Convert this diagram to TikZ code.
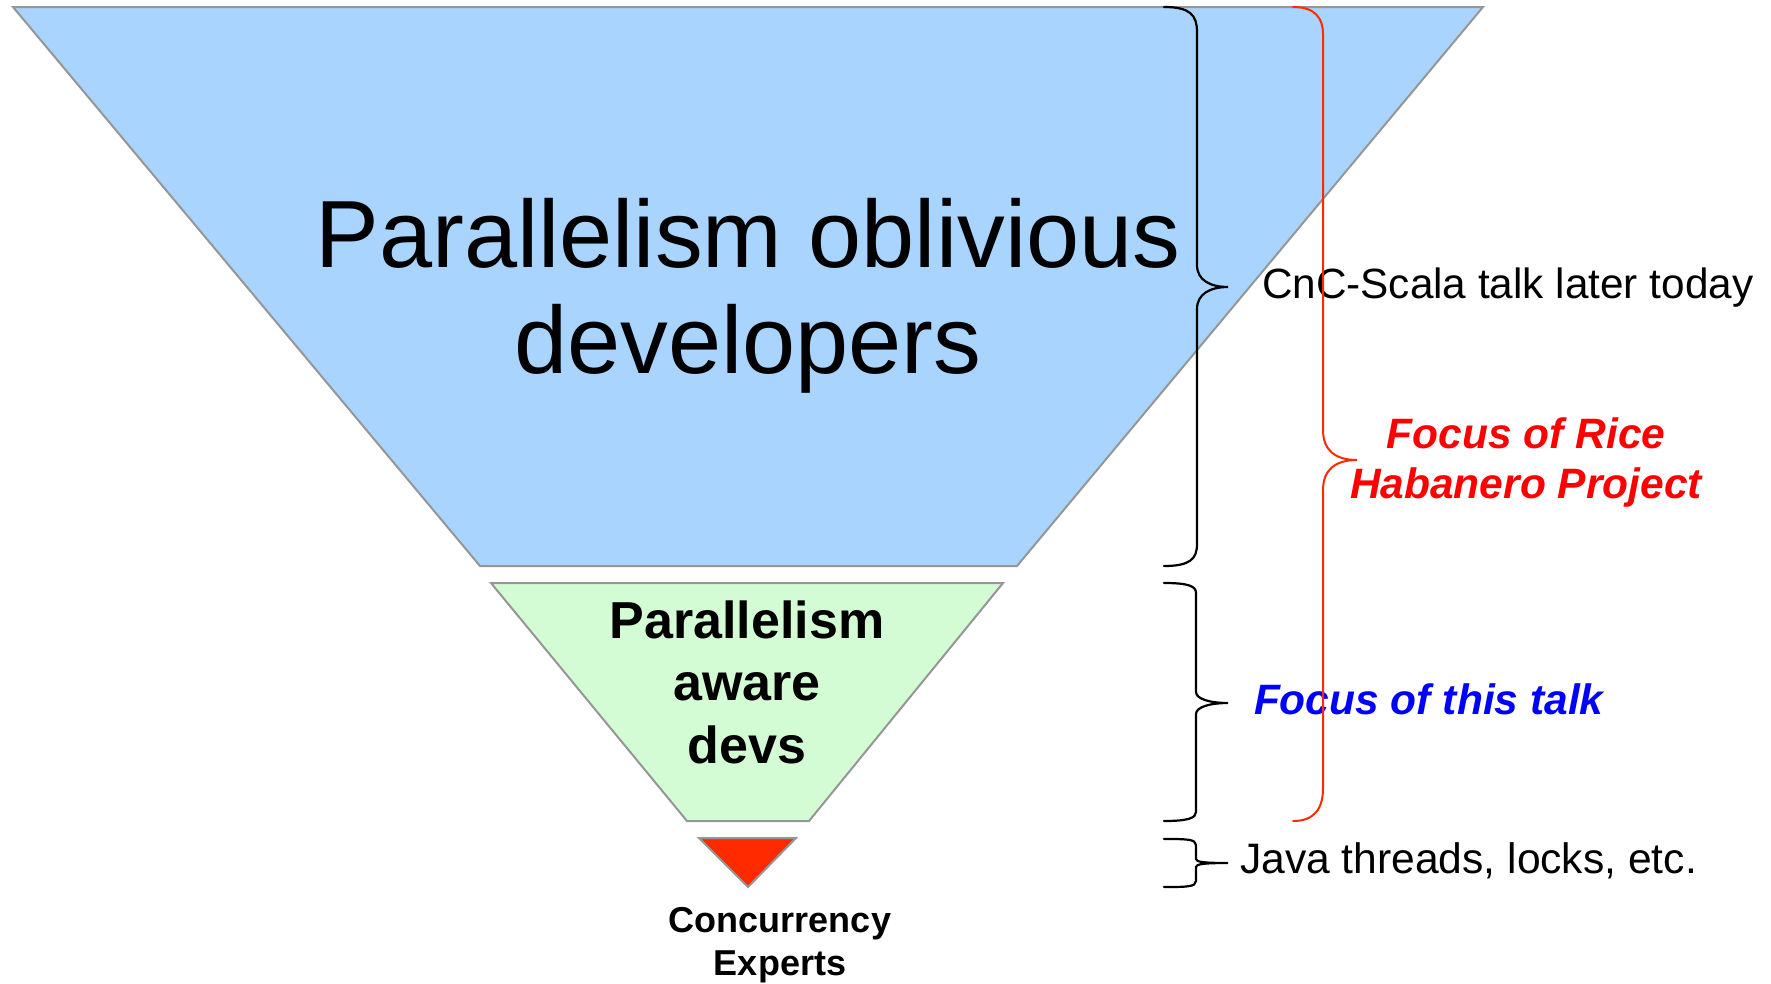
\documentclass[tikz,border=0pt]{standalone}
\usepackage{fontspec}
\setmainfont{Liberation Sans}
\definecolor{layerblue}{HTML}{A8D4FE}
\definecolor{layergreen}{HTML}{D4FCD4}
\definecolor{layerred}{HTML}{FF2A00}
\definecolor{edgegray}{HTML}{969696}
\definecolor{notered}{HTML}{FF0000}
\definecolor{noteblue}{HTML}{0000FF}
\tikzset{
  layer/.style={draw=edgegray, line width=2pt, line join=miter},
  bracket/.style={draw=black, line width=2.2pt, line cap=round},
  redbracket/.style={draw=layerred, line width=2pt, line cap=round},
  lbl/.style={inner sep=0pt, outer sep=0pt, align=center, anchor=base},
  note/.style={inner sep=0pt, outer sep=0pt, anchor=base west},
}
\begin{document}
\begin{tikzpicture}[x=1pt, y=-1pt]
\useasboundingbox (0,0) rectangle (1771,983);

% funnel layers
\path[layer, fill=layerblue] (13,7) -- (1483,7) -- (1017,566) -- (480,566) -- cycle;
\path[layer, fill=layergreen] (491,583) -- (1003,583) -- (809,821) -- (687,821) -- cycle;
\path[layer, fill=layerred] (699,838) -- (796,838) -- (748,887) -- cycle;

% layer labels (anchored at the baseline of their last line)
\node[lbl, font=\fontsize{95.5}{106}\selectfont] (oblivious) at (748,373)
  {Parallelism oblivious\\developers};
\node[lbl, font=\bfseries\fontsize{52}{62.5}\selectfont] (aware) at (747,763)
  {Parallelism\\aware\\devs};
\node[lbl, font=\bfseries\fontsize{36}{43}\selectfont] (experts) at (780,975)
  {Concurrency\\Experts};

% black braces
\path[bracket] (1164,7) .. controls (1190,7) and (1197,15) .. (1197,32)
  -- (1197,265) .. controls (1197,280) and (1210,287) .. (1228,287)
  .. controls (1210,287) and (1197,294) .. (1197,309)
  -- (1197,544) .. controls (1197,559) and (1190,566) .. (1164,566);
\path[bracket] (1164,583) .. controls (1188,583) and (1196,586) .. (1196,593)
  -- (1196,692) .. controls (1196,699) and (1210,703) .. (1228,703)
  .. controls (1210,703) and (1196,707) .. (1196,714)
  -- (1196,812) .. controls (1196,818) and (1188,821) .. (1164,821);
\path[bracket] (1164,839) .. controls (1186,839) and (1196,839) .. (1196,845)
  -- (1196,859) .. controls (1196,862) and (1204,863) .. (1228,863)
  .. controls (1204,863) and (1196,864) .. (1196,867)
  -- (1196,881) .. controls (1196,887) and (1186,887) .. (1164,887);

% brace notes
\node[note, font=\fontsize{42.3}{50}\selectfont] (cnc) at (1262,298) {CnC-Scala talk later today};
\node[note, font=\bfseries\itshape\fontsize{42.5}{50}\selectfont, text=noteblue] (talk) at (1254,714)
  {Focus of this talk};
\node[note, font=\fontsize{42.6}{50}\selectfont] (java) at (1240,873) {Java threads, locks, etc.};
\node[lbl, font=\bfseries\itshape\fontsize{42.5}{50}\selectfont, text=notered] (rice) at (1526,498)
  {Focus of Rice\\Habanero Project};

% red brace spanning the two upper layers
\path[redbracket] (1293,7) .. controls (1315,7) and (1323,18) .. (1323,34)
  -- (1323,430) .. controls (1323,450) and (1335,460) .. (1357,460)
  .. controls (1335,460) and (1323,470) .. (1323,490)
  -- (1323,788) .. controls (1323,808) and (1315,821) .. (1293,821);
\end{tikzpicture}
\end{document}
